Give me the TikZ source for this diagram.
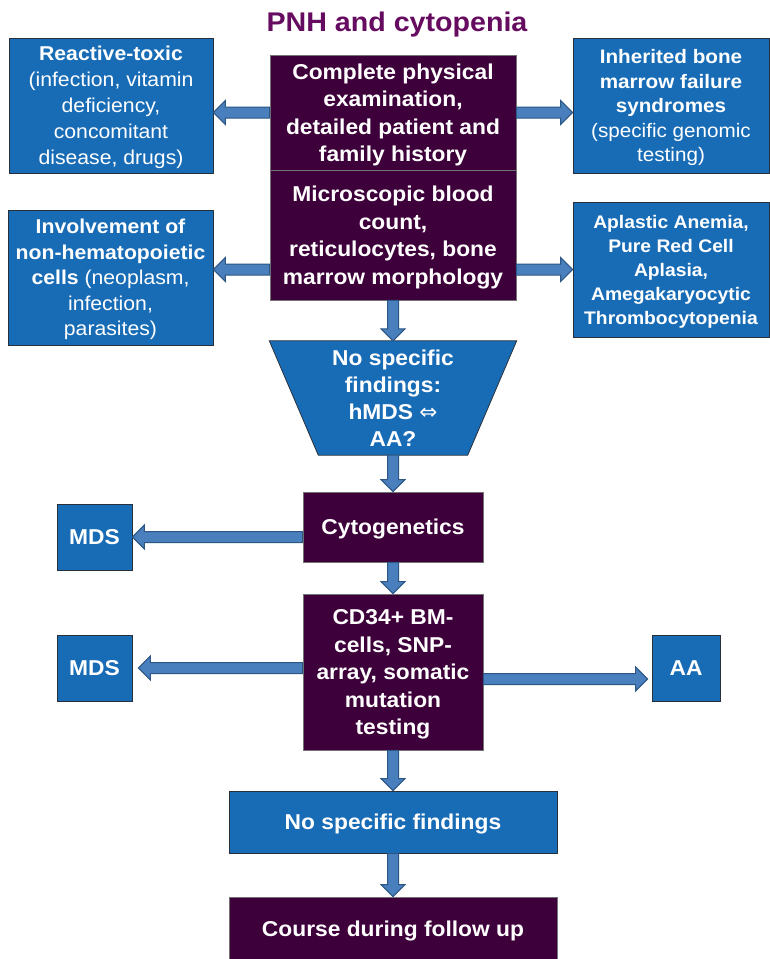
\documentclass[tikz,border=0pt]{standalone}
\usepackage{fontspec}
\setmainfont{Liberation Sans}[FakeStretch=1.06]
\newfontfamily\symfont{DejaVu Sans}
\usetikzlibrary{calc,backgrounds}
\definecolor{boxblue}{RGB}{24,108,182}
\definecolor{boxline}{RGB}{40,48,60}
\definecolor{boxpurple}{RGB}{62,0,58}
\definecolor{purpleline}{RGB}{115,115,115}
\definecolor{arrowfill}{RGB}{72,127,188}
\definecolor{arrowline}{RGB}{44,86,132}
\definecolor{titlepurple}{RGB}{102,12,96}
\newcommand{\blkarrow}[2]{%
  \path ($(#2)!12pt!(#1)$) coordinate (bah);
  \filldraw[blockarrow] ($(#1)!5.5pt!90:(#2)$) -- ($(bah)!5.5pt!-90:(#1)$) -- ($(bah)!12pt!-90:(#1)$) -- (#2) -- ($(bah)!12pt!90:(#1)$) -- ($(bah)!5.5pt!90:(#1)$) -- ($(#1)!5.5pt!-90:(#2)$) -- cycle;}
\begin{document}
\begin{tikzpicture}[x=1pt,y=-1pt,
  bluebox/.style={draw=boxline, fill=boxblue, text=white, inner sep=0pt, align=center, line width=0.8pt, text depth=0pt},
  purplebox/.style={draw=purpleline, fill=boxpurple, text=white, inner sep=0pt, align=center, line width=0.8pt, text depth=0pt},
  mainfont/.style={font=\fontsize{21.5}{27.5}\selectfont\bfseries},
  blockarrow/.style={fill=arrowfill, draw=arrowline, line width=1pt, line join=miter}]
\useasboundingbox (0,0) rectangle (770,959);
\begin{scope}[on background layer]
\fill[white] (0,0) rectangle (770,959);
\end{scope}

\node[anchor=base, text=titlepurple, font=\fontsize{27}{32}\selectfont\bfseries] (title) at (397,31.5) {PNH and cytopenia};

\node[bluebox, font=\fontsize{20}{26}\selectfont, minimum width=204pt, minimum height=135pt] (lt) at (111,105.5)
  {{\bfseries Reactive-toxic}\\(infection, vitamin\\deficiency,\\concomitant\\disease, drugs)};
\node[bluebox, font=\fontsize{20}{25.5}\selectfont, minimum width=205pt, minimum height=135pt] (lb) at (110.5,277.5)
  {{\bfseries Involvement of}\\{\bfseries non-hematopoietic}\\{\bfseries cells} (neoplasm,\\infection,\\parasites)};
\node[bluebox, font=\fontsize{19.5}{24.5}\selectfont, minimum width=196pt, minimum height=135pt] (rt) at (671,105.5)
  {{\bfseries Inherited bone}\\{\bfseries marrow failure}\\{\bfseries syndromes}\\(specific genomic\\testing)};
\node[bluebox, font=\fontsize{18.2}{24}\selectfont\bfseries, minimum width=196pt, minimum height=135pt] (rb) at (671,269.5)
  {Aplastic Anemia,\\Pure Red Cell\\Aplasia,\\Amegakaryocytic\\Thrombocytopenia};

\node[purplebox, mainfont, minimum width=246pt, minimum height=115pt] (c1) at (393,112.5)
  {Complete physical\\examination,\\detailed patient and\\family history};
\node[purplebox, mainfont, minimum width=246pt, minimum height=130pt] (c2) at (393,235)
  {Microscopic blood\\count,\\reticulocytes, bone\\marrow morphology};

\node[text=white, align=center, minimum width=247pt, minimum height=114pt, inner sep=0pt, text depth=0pt, font=\fontsize{21.5}{27}\selectfont\bfseries] (trap) at (393,398)
  {No specific\\findings:\\hMDS {\symfont\mdseries ⇔}\\AA?};
\begin{scope}[on background layer]
\filldraw[fill=boxblue, draw=boxline, line width=0.8pt] (trap.north west) -- (trap.north east) -- ($(trap.south east)+(-49,0)$) -- ($(trap.south west)+(49,0)$) -- cycle;
\end{scope}

\node[purplebox, mainfont, minimum width=180pt, minimum height=70pt] (cyto) at (393,527) {Cytogenetics};
\node[bluebox, mainfont, minimum width=75pt, minimum height=66pt] (mds1) at (94.5,537) {MDS};
\node[purplebox, mainfont, minimum width=180pt, minimum height=156pt] (cd) at (393,672)
  {CD34+ BM-\\cells, SNP-\\array, somatic\\mutation\\testing};
\node[bluebox, mainfont, minimum width=75pt, minimum height=66pt] (mds2) at (94.5,668) {MDS};
\node[bluebox, mainfont, minimum width=68pt, minimum height=66pt] (aa) at (686,668) {AA};
\node[bluebox, mainfont, minimum width=328pt, minimum height=62pt] (nsf) at (393,822) {No specific findings};
\node[purplebox, mainfont, minimum width=328pt, minimum height=64pt] (cfu) at (393,929) {Course during follow up};

% arrow end points
\coordinate (a1e) at (c1.west -| lt.east);
\coordinate (a2e) at (c1.east -| rt.west);
\coordinate (a3s) at (c2.west |- rb.west);
\coordinate (a3e) at (lb.east |- rb.west);
\coordinate (a4s) at (c2.east |- rb.west);
\coordinate (a7s) at (cyto.west |- mds1.east);
\coordinate (a9s) at (cd.west |- mds2.east);
\coordinate (a9e) at ($(mds2.east)+(6,0)$);
\coordinate (a10s) at ($(cd.east |- aa.west)+(0,11)$);
\coordinate (a10e) at ($(aa.west)+(-4,11)$);

\blkarrow{c1.west}{a1e}
\blkarrow{c1.east}{a2e}
\blkarrow{a3s}{a3e}
\blkarrow{a4s}{rb.west}
\blkarrow{c2.south}{trap.north}
\blkarrow{trap.south}{cyto.north}
\blkarrow{a7s}{mds1.east}
\blkarrow{cyto.south}{cd.north}
\blkarrow{a9s}{a9e}
\blkarrow{a10s}{a10e}
\blkarrow{cd.south}{nsf.north}
\blkarrow{nsf.south}{cfu.north}
\end{tikzpicture}
\end{document}
